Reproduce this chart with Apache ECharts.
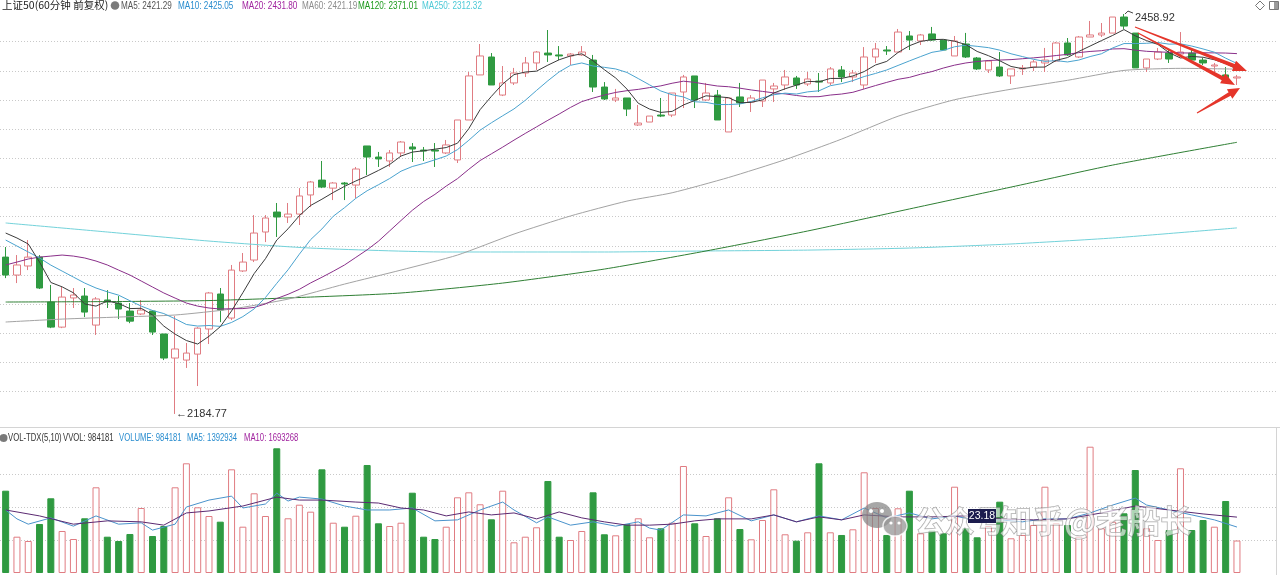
<!DOCTYPE html>
<html><head><meta charset="utf-8">
<script src="https://cdn.jsdelivr.net/npm/echarts@6/dist/echarts.min.js"></script>
<style>html,body{margin:0;padding:0;background:#fff;}#c{width:1280px;height:575px;}</style>
</head><body><div id="c"></div>
<script>
// ---------- DATA ----------
const slotCount = 113; // 110 bars + 3 empty slots on the right
const categories = [];
for (let i = 1; i <= slotCount; i++) categories.push(String(i));

// [open, close, low, high]
const candles = [
[2292.3,2280.0,2277.9,2299.2],[2280.0,2286.9,2274.5,2293.7],[2286.2,2292.3,2283.4,2304.0],[2292.3,2271.1,2270.4,2293.7],[2261.5,2244.3,2243.6,2273.2],
[2244.3,2264.9,2243.6,2271.8],[2264.3,2266.3,2257.4,2271.1],[2265.6,2254.6,2251.2,2271.1],[2245.7,2263.6,2238.9,2264.9],[2262.9,2261.5,2257.4,2269.7],
[2260.8,2256.7,2249.8,2265.6],[2255.3,2248.4,2247.0,2260.8],[2253.3,2256.0,2252.6,2262.9],[2255.3,2240.9,2238.9,2256.0],[2239.6,2223.1,2221.7,2239.6],
[2223.1,2229.3,2184.77,2251.9],[2221.7,2226.5,2216.3,2233.4],[2225.8,2243.6,2203.9,2244.3],[2243.0,2267.7,2232.7,2268.4],[2267.0,2256.0,2247.7,2271.1],
[2250.5,2283.4,2249.1,2286.9],[2282.8,2288.9,2282.1,2295.1],[2290.3,2308.8,2288.9,2321.1],[2309.5,2319.1,2302.6,2321.1],[2323.2,2319.8,2306.1,2329.4],
[2319.8,2321.8,2315.7,2329.4],[2321.8,2334.2,2314.3,2339.6],[2334.9,2343.8,2326.6,2344.5],[2345.1,2340.3,2339.6,2358.2],[2339.6,2343.1,2331.4,2343.8],
[2343.1,2342.4,2331.4,2343.8],[2341.7,2352.7,2332.8,2354.1],[2368.5,2360.9,2348.6,2368.5],[2360.9,2359.6,2354.1,2364.4],[2358.2,2363.7,2354.1,2365.7],
[2363.7,2371.2,2360.9,2371.9],[2367.8,2366.4,2357.5,2370.5],[2365.7,2365.0,2358.2,2367.8],[2365.7,2365.0,2354.1,2370.5],[2363.7,2369.2,2363.0,2372.6],
[2358.9,2386.3,2356.8,2386.3],[2386.3,2416.5,2386.3,2419.2],[2417.2,2430.2,2417.2,2438.4],[2429.5,2410.3,2410.3,2432.2],[2403.4,2411.7,2402.7,2423.3],
[2411.7,2418.5,2410.3,2422.0],[2418.5,2425.4,2415.8,2429.5],[2425.4,2432.9,2420.6,2433.6],[2432.2,2430.9,2426.1,2448.0],[2430.9,2430.2,2427.4,2437.0],
[2430.2,2431.5,2424.0,2432.2],[2430.9,2432.9,2430.2,2437.0],[2427.4,2408.9,2405.5,2430.9],[2408.9,2400.7,2400.0,2412.3],[2400.0,2401.4,2398.6,2407.6],
[2401.4,2393.8,2389.0,2401.4],[2382.9,2384.2,2382.2,2396.6],[2384.9,2389.0,2384.9,2389.0],[2389.7,2389.0,2388.3,2401.4],[2389.7,2404.8,2388.3,2404.8],
[2405.5,2415.8,2394.5,2417.2],[2416.5,2400.0,2394.5,2416.5],[2400.0,2404.8,2399.3,2411.7],[2403.4,2386.3,2386.3,2406.9],[2378.1,2401.4,2378.1,2401.4],
[2402.1,2398.0,2395.2,2411.7],[2398.6,2401.4,2391.8,2403.4],[2399.3,2413.7,2395.2,2413.7],[2407.6,2409.6,2398.6,2411.7],[2410.3,2415.8,2406.9,2420.6],
[2415.1,2410.3,2407.6,2416.5],[2411.0,2414.4,2409.6,2419.2],[2413.0,2412.3,2405.5,2418.5],[2411.7,2421.3,2410.3,2422.6],[2420.6,2415.8,2412.3,2423.3],
[2415.8,2418.5,2412.3,2420.6],[2410.3,2429.5,2407.6,2436.3],[2429.5,2435.0,2425.4,2439.1],[2434.3,2433.6,2430.9,2437.0],[2432.9,2446.6,2432.9,2448.7],
[2443.9,2441.1,2434.3,2447.3],[2440.5,2444.6,2437.7,2445.3],[2445.3,2441.1,2440.5,2450.1],[2441.1,2434.3,2434.3,2441.1],[2430.2,2440.5,2430.2,2443.9],
[2438.4,2429.5,2428.8,2446.0],[2428.8,2421.3,2420.6,2429.5],[2420.6,2426.7,2418.5,2427.4],[2422.6,2416.5,2415.8,2432.9],[2416.5,2421.3,2411.0,2421.3],
[2421.3,2422.0,2417.2,2424.0],[2422.6,2426.1,2419.9,2427.4],[2425.4,2427.4,2419.2,2435.7],[2426.7,2439.1,2426.1,2439.8],[2439.1,2430.9,2430.2,2442.5],
[2429.5,2443.2,2428.8,2443.9],[2443.2,2444.6,2443.2,2454.2],[2444.6,2445.9,2443.2,2452.8],[2445.9,2456.9,2445.9,2456.9],[2456.9,2450.7,2448.7,2458.92],
[2445.9,2422.0,2422.0,2445.9],[2422.0,2428.1,2419.2,2428.1],[2428.1,2432.9,2427.4,2435.7],[2432.2,2428.1,2425.4,2434.3],[2431.5,2432.9,2430.9,2446.6],
[2432.2,2427.4,2426.1,2434.3],[2427.4,2425.4,2424.0,2428.8],[2423.3,2424.0,2417.2,2425.4],[2417.2,2415.1,2415.1,2422.6],[2415.1,2415.8,2410.3,2417.2]
];

const ma5 = [2308.8,2305.4,2301.3,2288.9,2274.9,2271.9,2267.8,2260.2,2258.7,2262.2,
2260.5,2257.0,2257.2,2252.7,2245.0,2239.5,2235.1,2232.7,2238.0,2244.6,
2255.4,2267.9,2281.0,2291.2,2304.0,2311.7,2320.7,2327.7,2332.0,2336.6,
2340.8,2344.5,2347.9,2351.7,2355.8,2361.6,2364.3,2365.2,2366.3,2367.4,
2370.4,2380.4,2393.4,2402.5,2411.0,2417.4,2419.2,2419.8,2423.9,2427.6,
2430.2,2431.7,2426.9,2420.8,2415.1,2407.5,2397.8,2393.8,2391.5,2392.2,
2396.6,2399.7,2402.9,2402.3,2401.6,2398.1,2398.4,2400.1,2404.8,2407.7,
2410.2,2412.8,2412.5,2414.8,2414.8,2416.5,2419.5,2424.0,2426.5,2432.6,
2437.2,2440.2,2441.4,2441.6,2440.3,2438.0,2433.3,2430.4,2426.9,2423.0,
2421.5,2422.5,2422.6,2427.2,2429.1,2433.3,2437.0,2440.7,2444.3,2448.3,
2444.0,2440.7,2438.1,2432.4,2428.8,2429.9,2429.3,2427.6,2425.0,2421.29];

const ma10 = [2304.0,2299.9,2295.8,2291.7,2286.8,2282.7,2278.6,2274.5,2271.1,2268.5,
2266.2,2262.4,2258.7,2255.7,2253.6,2250.0,2246.1,2245.0,2245.4,2244.8,
2247.5,2251.5,2256.8,2264.6,2274.3,2283.6,2294.3,2304.3,2311.6,2320.3,
2326.2,2332.6,2337.8,2341.9,2346.2,2351.2,2354.4,2356.5,2359.0,2361.6,
2366.0,2372.4,2379.3,2384.4,2389.2,2393.9,2399.8,2406.6,2413.2,2419.3,
2423.8,2425.4,2423.3,2422.4,2421.3,2418.9,2414.7,2410.4,2406.2,2403.6,
2402.1,2398.8,2398.4,2396.9,2396.9,2397.3,2399.0,2401.5,2403.6,2404.7,
2404.1,2405.6,2406.3,2409.8,2411.2,2413.3,2416.1,2418.2,2420.6,2423.7,
2426.8,2429.8,2432.7,2434.0,2436.5,2437.6,2436.8,2435.9,2434.2,2431.7,
2429.8,2427.9,2426.5,2427.0,2426.1,2427.4,2429.8,2431.7,2435.7,2438.7,
2438.7,2438.9,2439.4,2438.3,2438.5,2437.0,2435.0,2432.8,2428.7,2425.05];

const ma20 = [2286.9,2288.9,2291.0,2292.3,2293.0,2293.7,2293.0,2291.7,2289.6,2286.9,
2283.4,2280.0,2275.9,2271.8,2267.7,2264.2,2260.8,2258.7,2257.4,2256.7,
2256.9,2257.0,2257.8,2260.2,2263.9,2266.8,2270.2,2274.6,2278.5,2282.6,
2286.9,2292.1,2297.3,2303.2,2310.3,2317.4,2324.4,2330.4,2335.3,2341.0,
2346.1,2352.5,2358.5,2363.1,2367.7,2372.5,2377.1,2381.6,2386.1,2390.4,
2394.9,2398.9,2401.3,2403.4,2405.2,2406.4,2407.3,2408.5,2409.7,2411.5,
2412.9,2412.1,2410.8,2409.6,2409.1,2408.1,2406.9,2405.9,2404.9,2404.2,
2403.1,2402.2,2402.3,2403.4,2404.1,2405.3,2407.6,2409.9,2412.1,2414.2,
2415.5,2417.7,2419.5,2421.9,2423.9,2425.4,2426.4,2427.1,2427.4,2427.7,
2428.3,2428.9,2429.6,2430.5,2431.3,2432.5,2433.3,2433.8,2435.0,2435.2,
2434.2,2433.4,2433.0,2432.7,2432.3,2432.2,2432.4,2432.3,2432.2,2431.80];

// [bar index, value] read at sample points
const ma60 = [[0,2247.8],[5,2249.8],[10,2251.2],[15,2252.6],[20,2256.7],[25,2263.5],[30,2273.8],[35,2283.4],[40,2293.7],[45,2308.1],[50,2320.5],[55,2330.7],[59,2336.4],[64,2346.9],[69,2359.1],[74,2373.2],[79,2388.9],[84,2400.2],[89,2407.4],[94,2413.5],[99,2420.3],[104,2421.7],[109,2421.19]];
const ma120 = [[0,2261.5],[9,2261.8],[18,2262.5],[27,2264.9],[35,2267.7],[44,2274.5],[53,2284.1],[62,2296.5],[71,2310.2],[80,2325.3],[89,2340.3],[98,2355.4],[109,2371.01]];
const ma250 = [[0,2315.7],[9,2309.5],[18,2303.3],[27,2298.5],[39,2295.8],[53,2295.8],[62,2296.5],[71,2297.1],[80,2298.5],[89,2301.3],[98,2305.4],[109,2312.32]];

const volumes = [2494000,1100000,970000,1485000,2264000,1273000,1030000,1658000,2597000,1100000,
970000,1182000,1970000,1121000,1424000,2597000,3324000,1991000,1727000,1555000,
3142000,1403000,2415000,1727000,3779000,1658000,2070000,1858000,3142000,1524000,
1403000,1736000,3273000,1506000,1424000,1524000,2433000,1100000,1030000,1403000,
2294000,2445000,2082000,1627000,2494000,930000,1100000,1385000,2788000,1100000,
1000000,1273000,2445000,1173000,1142000,1476000,1658000,1082000,1355000,1524000,
3242000,1506000,1121000,1658000,2294000,1333000,1021000,1606000,2536000,1173000,
979000,1233000,3324000,1233000,1152000,1324000,3052000,1970000,1152000,1961000,
2494000,1203000,1282000,1203000,2615000,1355000,1082000,1424000,2161000,1052000,
1152000,1455000,2615000,1506000,1455000,1100000,3827000,1355000,1555000,1809000,
3121000,1355000,1000000,1303000,3173000,1303000,1606000,1403000,2182000,984181];

const volMa5 = [[0,1910000],[1,1640000],[2,1480000],[4,1670000],[6,1420000],[8,1730000],[10,1480000],[12,1520000],[13,1300000],[15,1480000],[16,2000000],[18,2210000],[20,2330000],[21,1970000],[23,2090000],[24,2420000],[25,2180000],[26,2300000],[28,2240000],[30,2030000],[32,1910000],[34,1910000],[36,1970000],[38,1580000],[40,1610000],[42,1910000],[44,2150000],[45,1910000],[47,1520000],[48,1700000],[50,1450000],[52,1550000],[54,1420000],[56,1550000],[57,1360000],[58,1300000],[60,1760000],[62,1730000],[64,1910000],[66,1580000],[68,1760000],[70,1550000],[72,1730000],[74,1610000],[76,1970000],[78,1670000],[80,1820000],[82,1640000],[84,1730000],[86,1580000],[88,1610000],[90,1550000],[92,1640000],[94,1640000],[96,1820000],[98,2060000],[100,2270000],[101,2060000],[103,1910000],[105,1760000],[107,1610000],[109,1392934]];
const volMa10 = [[0,1910000],[3,1730000],[6,1480000],[9,1580000],[12,1550000],[14,1450000],[16,1820000],[18,1880000],[21,2030000],[24,2300000],[26,2210000],[28,2210000],[31,2150000],[33,2120000],[35,1970000],[37,1910000],[39,1730000],[41,1850000],[43,1760000],[45,1820000],[47,1640000],[49,1850000],[51,1670000],[53,1550000],[55,1450000],[57,1450000],[59,1480000],[61,1580000],[63,1640000],[66,1640000],[68,1760000],[70,1550000],[72,1700000],[74,1610000],[76,1760000],[79,1700000],[82,1700000],[85,1730000],[88,1640000],[91,1610000],[94,1640000],[97,1820000],[100,2030000],[103,1910000],[106,1790000],[109,1693268]];

const priceGridTicks = [2200,2220,2240,2260,2280,2300,2320,2340,2360,2380,2400,2420,2440];
const volumeGridTicks = [1000000,2000000,3000000];
const lowMark = {index:15, value:2184.77};
const highMark = {index:99, value:2458.92};

// ---------- STYLE ----------
const UP_LINE = '#e07c82', DN = '#2f9a41';
const C_MA5 = '#3b3b3b', C_MA10 = '#4aa3cf', C_MA20 = '#8a2f8a', C_MA60 = '#a3a3a3', C_MA120 = '#2f7f34', C_MA250 = '#72d2da';
const FONT = '"Liberation Sans",Arial,sans-serif';
const CJK = '"Noto Sans CJK SC","Noto Sans",sans-serif';

const chart = echarts.init(document.getElementById('c'));

function lineSeries(name, data, color, xi, yi, smooth) {
  return {name, type:'line', data, xAxisIndex:xi, yAxisIndex:yi, symbol:'none', smooth: smooth || false,
    lineStyle:{color, width:1}, silent:true, z:3};
}

const volData = volumes.map((v, i) => {
  const up = candles[i][1] >= candles[i][0];
  return {value:v, itemStyle: up ? {color:'#ffffff', borderColor:UP_LINE, borderWidth:1}
                                 : {color:DN, borderColor:DN, borderWidth:1}};
});

function arrowPts(x0,y0,x1,y1,w0,w1,hl,hw){
  const dx=x1-x0, dy=y1-y0, L=Math.hypot(dx,dy), ux=dx/L, uy=dy/L, nx=-uy, ny=ux;
  const bx=x1-ux*hl, by=y1-uy*hl;
  return [[x0+nx*w0,y0+ny*w0],[bx+nx*w1,by+ny*w1],[bx+nx*hw,by+ny*hw],[x1,y1],
          [bx-nx*hw,by-ny*hw],[bx-nx*w1,by-ny*w1],[x0-nx*w0,y0-ny*w0]];
}
const RED = '#e5352a';

function txt(x, y, text, fill, font, sx) {
  return {type:'text', x, y, z:50, silent:true, scaleX: sx || 1,
    style:{text, fill, font, verticalAlign:'middle', textVerticalAlign:'middle'}};
}
function wm(x, y, text, size) {
  return {type:'text', x, y, z:70, silent:true,
    style:{text, fill:'rgba(255,255,255,0.6)', stroke:'rgba(110,110,110,0.65)', lineWidth:1,
      font:'bold ' + size + 'px ' + CJK, verticalAlign:'middle', textVerticalAlign:'middle'}};
}

const F = '11.5px ' + FONT;
const NARROW = 0.71;   // the terminal font is condensed
const NARROW_V = 0.67;
const header = [
  txt(2, 5.5, '上证50(60分钟 前复权)', '#222', '10.5px ' + CJK),
  {type:'circle', shape:{cx:115, cy:5.5, r:4.3}, style:{fill:'#7a7a7a'}, z:50, silent:true},
  txt(121, 5.5, 'MA5: ' + ma5[ma5.length-1].toFixed(2), '#555', F, NARROW),
  txt(178, 5.5, 'MA10: ' + ma10[ma10.length-1].toFixed(2), '#2a8dcf', F, NARROW),
  txt(242, 5.5, 'MA20: ' + ma20[ma20.length-1].toFixed(2), '#a0229e', F, NARROW),
  txt(302, 5.5, 'MA60: ' + ma60[ma60.length-1][1].toFixed(2), '#8c8c8c', F, NARROW),
  txt(358, 5.5, 'MA120: ' + ma120[ma120.length-1][1].toFixed(2), '#1d9a1d', F, NARROW),
  txt(422, 5.5, 'MA250: ' + ma250[ma250.length-1][1].toFixed(2), '#4cc9d6', F, NARROW),
  // volume header
  {type:'circle', shape:{cx:3.5, cy:438, r:4}, style:{fill:'#7a7a7a'}, z:50, silent:true},
  txt(8, 438, 'VOL-TDX(5,10)', '#333', F, NARROW_V),
  txt(63, 438, 'VVOL: ' + volumes[volumes.length-1], '#333', F, NARROW_V),
  txt(119, 438, 'VOLUME: ' + volumes[volumes.length-1], '#2a8dcf', F, NARROW_V),
  txt(187, 438, 'MA5: ' + volMa5[volMa5.length-1][1], '#2a8dcf', F, NARROW_V),
  txt(244, 438, 'MA10: ' + volMa10[volMa10.length-1][1], '#a0229e', F, NARROW_V),
  // top-right icons
  {type:'polygon', shape:{points:[[1260,1],[1264.5,5.5],[1260,10],[1255.5,5.5]]}, style:{fill:'none', stroke:'#777', lineWidth:1}, z:50, silent:true},
  {type:'rect', shape:{x:1269.5, y:1.5, width:9, height:8}, style:{fill:'none', stroke:'#777', lineWidth:1}, z:50, silent:true},
  {type:'rect', shape:{x:1274, y:2, width:4, height:7}, style:{fill:'#999'}, z:50, silent:true},
  // panel separators
  {type:'line', shape:{x1:0, y1:427.5, x2:1280, y2:427.5}, style:{stroke:'#d4d4d4', lineWidth:1}, z:1, silent:true},
  {type:'line', shape:{x1:1276.5, y1:428, x2:1276.5, y2:575}, style:{stroke:'#d4d4d4', lineWidth:1}, z:1, silent:true},
  // red annotation arrows
  {type:'polygon', shape:{points:arrowPts(1135,27,1247,71,0.5,2,14,5.5)}, style:{fill:RED}, z:60, silent:true},
  {type:'polygon', shape:{points:arrowPts(1138,33,1235,85,0.5,2,14,5.5)}, style:{fill:RED}, z:60, silent:true},
  {type:'polygon', shape:{points:arrowPts(1197,113,1240,88,0.5,2,12,5.5)}, style:{fill:RED}, z:60, silent:true},
  // watermark
  {type:'ellipse', shape:{cx:877, cy:515, rx:15, ry:13}, style:{fill:'rgba(130,130,130,0.7)'}, z:70, silent:true},
  {type:'ellipse', shape:{cx:895, cy:526, rx:12, ry:10}, style:{fill:'rgba(150,150,150,0.75)', stroke:'rgba(255,255,255,0.8)', lineWidth:1.5}, z:71, silent:true},
  {type:'circle', shape:{cx:871, cy:511, r:2}, style:{fill:'#fff'}, z:72, silent:true},
  {type:'circle', shape:{cx:882, cy:511, r:2}, style:{fill:'#fff'}, z:72, silent:true},
  {type:'circle', shape:{cx:891, cy:523, r:1.6}, style:{fill:'#fff'}, z:72, silent:true},
  {type:'circle', shape:{cx:899, cy:523, r:1.6}, style:{fill:'#fff'}, z:72, silent:true},
  wm(915, 521, '公众号', 30),
  wm(1000, 521, '知乎@老船长', 32),
  {type:'rect', shape:{x:968, y:509, width:28, height:14}, style:{fill:'#1c1c4e'}, z:80, silent:true},
  {type:'text', x:982, y:516, z:81, silent:true, style:{text:'23.18', fill:'#fff', font:'10.5px ' + FONT, align:'center', textAlign:'center', verticalAlign:'middle', textVerticalAlign:'middle'}}
];

const option = {
  animation:false,
  backgroundColor:'#ffffff',
  grid:[{left:-1.5, right:3.5, top:12.5, height:408.4},
        {left:-1.5, right:3.5, top:441, height:132}],
  xAxis:[{type:'category', data:categories, gridIndex:0, show:false, boundaryGap:true},
         {type:'category', data:categories, gridIndex:1, show:false, boundaryGap:true}],
  yAxis:[{gridIndex:0, min:2180, max:2460, show:false, splitLine:{show:false}},
         {gridIndex:1, min:0, max:4000000, show:false, splitLine:{show:false}}],
  series:[
    {type:'candlestick', name:'K', data:candles, xAxisIndex:0, yAxisIndex:0, barWidth:7, z:2,
      itemStyle:{color:'#ffffff', color0:DN, borderColor:UP_LINE, borderColor0:DN, borderWidth:1},
      markLine:{silent:true, symbol:['none','none'], label:{show:false}, z:1,
        lineStyle:{color:'#c9c9c9', type:[1,2], width:1},
        data:priceGridTicks.map(v => ({yAxis:v}))},
      markPoint:{silent:true, symbol:'circle', symbolSize:0.01, itemStyle:{color:'transparent'},
        data:[
          {coord:[lowMark.index, lowMark.value], label:{show:true, position:'right', distance:1, formatter:'←' + lowMark.value.toFixed(2), color:'#333', fontSize:11, fontFamily:'Liberation Sans'}},
          {coord:[highMark.index, highMark.value], label:{show:true, position:'right', distance:1, offset:[10,4], formatter:highMark.value.toFixed(2), color:'#333', fontSize:11, fontFamily:'Liberation Sans'}}
        ]}
    },
    lineSeries('MA250', ma250, C_MA250, 0, 0, 0.2),
    lineSeries('MA120', ma120, C_MA120, 0, 0, 0.2),
    lineSeries('MA60', ma60, C_MA60, 0, 0, 0.2),
    lineSeries('MA20', ma20, C_MA20, 0, 0),
    lineSeries('MA10', ma10, C_MA10, 0, 0),
    lineSeries('MA5', ma5, C_MA5, 0, 0),
    {type:'bar', name:'VOL', data:volData, xAxisIndex:1, yAxisIndex:1, barWidth:7, z:2,
      markLine:{silent:true, symbol:['none','none'], label:{show:false}, z:1,
        lineStyle:{color:'#c9c9c9', type:[1,2], width:1},
        data:volumeGridTicks.map(v => ({yAxis:v}))}},
    lineSeries('VMA5', volMa5, '#4a93cc', 1, 1),
    lineSeries('VMA10', volMa10, '#5b2a72', 1, 1)
  ],
  graphic: header
};
chart.setOption(option);

// small hook from the high point to its label
const hp = chart.convertToPixel({xAxisIndex:0, yAxisIndex:0}, [highMark.index, highMark.value]);
chart.setOption({graphic: header.concat([
  {type:'polyline', shape:{points:[[hp[0]+1, hp[1]], [hp[0]+4, hp[1]-3], [hp[0]+9, hp[1]-1]]}, style:{stroke:'#444', lineWidth:1, fill:'none'}, z:50, silent:true}
])});
</script></body></html>
